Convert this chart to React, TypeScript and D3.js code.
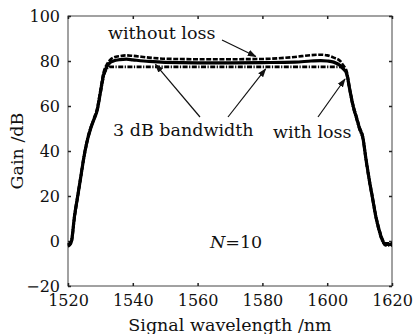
import React, { useRef, useEffect } from "react";
import * as d3 from "d3";

// wavelength samples (nm)
const wavelengths = [
  1520, 1521, 1522, 1523, 1524, 1525, 1526, 1527, 1528, 1529, 1530, 1531, 1532,
  1533, 1534, 1536, 1538, 1540, 1545, 1550, 1560, 1570, 1580, 1590, 1595, 1598,
  1600, 1602, 1604, 1605, 1606, 1607, 1608, 1609, 1610, 1611, 1612, 1613, 1614,
  1615, 1616, 1617, 1618, 1619, 1620,
];
// gain with loss (solid)
const gainWithLoss = [
  -2, -0.5, 11, 20, 29, 38, 45, 50, 54, 58, 66, 74, 77.5,
  79.3, 80, 80.6, 80.8, 80.5, 79.8, 79.4, 79.2, 79.2, 79.3, 79.5, 80, 80.2,
  80, 79.5, 78, 76.5, 74.5, 67, 60, 55, 50, 46, 36, 27, 19,
  11, 5, 0.5, -1.5, -1.5, -1.5,
];
// gain without loss (dashed)
const gainWithoutLoss = [
  -2.5, -1, 10, 19.5, 28.5, 37.5, 44.5, 50, 54.5, 59, 67, 75, 78.5,
  80.5, 81.5, 82.2, 82.5, 82.3, 81.5, 81, 80.8, 80.8, 80.9, 81.8, 82.6, 82.8,
  82.5, 81.5, 80, 78, 75.5, 67.5, 60.5, 55.5, 50.5, 46.5, 36.5, 27.5, 19.5,
  11.5, 5.5, 1, -1, -1, -1,
];
// 3 dB bandwidth level (dash-dot)
const gain3dB = [
  -1.5, 0, 11.5, 20.5, 29.5, 38.5, 45.5, 50.5, 54, 58, 65.5, 73, 76.5,
  77.4, 77.4, 77.4, 77.4, 77.4, 77.4, 77.4, 77.4, 77.4, 77.4, 77.4, 77.4, 77.4,
  77.4, 77.4, 77.4, 76.5, 74, 66.5, 59.5, 54.5, 49.5, 45.5, 35.5, 26.5, 18.5,
  10.5, 4.5, 0, -2, -2, -2,
];

const xTicks = [1520, 1540, 1560, 1580, 1600, 1620];
const yTicks = [-20, 0, 20, 40, 60, 80, 100];

const W = 413;
const H = 334;
const margin = { left: 68, right: 21, top: 16, bottom: 48 };
const font = "'DejaVu Serif', serif";

export default function App() {
  const svgRef = useRef<SVGSVGElement>(null);

  useEffect(() => {
    const svg = d3.select(svgRef.current);
    svg.selectAll("*").remove();

    const x = d3
      .scaleLinear()
      .domain([1520, 1620])
      .range([margin.left, W - margin.right]);
    const y = d3
      .scaleLinear()
      .domain([-20, 100])
      .range([H - margin.bottom, margin.top]);

    const defs = svg.append("defs");
    defs
      .append("marker")
      .attr("id", "arrow")
      .attr("viewBox", "0 0 10 10")
      .attr("refX", 9)
      .attr("refY", 5)
      .attr("markerWidth", 9)
      .attr("markerHeight", 9)
      .attr("markerUnits", "userSpaceOnUse")
      .attr("orient", "auto")
      .append("path")
      .attr("d", "M0,1.5 L10,5 L0,8.5 Z")
      .attr("fill", "#111");

    // frame
    svg
      .append("rect")
      .attr("x", x(1520))
      .attr("y", y(100))
      .attr("width", x(1620) - x(1520))
      .attr("height", y(-20) - y(100))
      .attr("fill", "none")
      .attr("stroke", "#444")
      .attr("stroke-width", 1);

    // bottom / top axes
    const bottom = svg
      .append("g")
      .attr("transform", `translate(0,${y(-20)})`)
      .call(
        d3
          .axisBottom(x)
          .tickValues(xTicks)
          .tickSize(-3)
          .tickPadding(9)
          .tickFormat(d3.format("d"))
      );
    svg
      .append("g")
      .attr("transform", `translate(0,${y(100)})`)
      .call(d3.axisTop(x).tickValues(xTicks).tickSize(-3).tickFormat(() => ""));
    const left = svg
      .append("g")
      .attr("transform", `translate(${x(1520)},0)`)
      .call(
        d3
          .axisLeft(y)
          .tickValues(yTicks)
          .tickSize(-3)
          .tickPadding(8)
          .tickFormat((d) => (+d < 0 ? "\u2212" + Math.abs(+d) : String(d)))
      );
    svg
      .append("g")
      .attr("transform", `translate(${x(1620)},0)`)
      .call(d3.axisRight(y).tickValues(yTicks).tickSize(-3).tickFormat(() => ""));

    svg.selectAll(".domain").remove();
    svg.selectAll(".tick line").attr("stroke", "#222").attr("stroke-width", 1.5);
    svg
      .selectAll(".tick text")
      .attr("font-family", font)
      .attr("font-size", 16)
      .attr("fill", "#111");
    bottom.selectAll(".tick text").attr("dy", "0.71em");
    left.selectAll(".tick text").attr("dy", "0.35em");

    const line = (vals: number[]) =>
      d3
        .line<number>()
        .x((_, i) => x(wavelengths[i]))
        .y((v) => y(v))
        .curve(d3.curveMonotoneX)(vals);

    svg
      .append("path")
      .attr("d", line(gain3dB))
      .attr("fill", "none")
      .attr("stroke", "#000")
      .attr("stroke-width", 2.6)
      .attr("stroke-dasharray", "5,1.5,1.2,1.5");
    svg
      .append("path")
      .attr("d", line(gainWithLoss))
      .attr("fill", "none")
      .attr("stroke", "#000")
      .attr("stroke-width", 3.2);
    svg
      .append("path")
      .attr("d", line(gainWithoutLoss))
      .attr("fill", "none")
      .attr("stroke", "#000")
      .attr("stroke-width", 2.6)
      .attr("stroke-dasharray", "5,1.6");

    // annotations
    const text = (tx: number, ty: number, s: string) =>
      svg
        .append("text")
        .attr("x", tx)
        .attr("y", ty)
        .attr("font-family", font)
        .attr("font-size", 17.5)
        .attr("fill", "#111")
        .text(s);

    text(108, 39, "without loss");
    text(113, 136, "3 dB bandwidth");
    text(273, 138, "with loss");

    const arrow = (x1: number, y1: number, x2: number, y2: number) =>
      svg
        .append("line")
        .attr("x1", x1)
        .attr("y1", y1)
        .attr("x2", x2)
        .attr("y2", y2)
        .attr("stroke", "#111")
        .attr("stroke-width", 1.2)
        .attr("marker-end", "url(#arrow)");

    arrow(222, 40, x(1578), y(82));
    arrow(200, 117, x(1547), y(78.5));
    arrow(228, 117, x(1581), y(76.5));
    arrow(318, 117, x(1605.5), y(72));

    const n = svg
      .append("text")
      .attr("x", 210)
      .attr("y", 248)
      .attr("font-family", font)
      .attr("font-size", 17.5)
      .attr("fill", "#111");
    n.append("tspan").attr("font-style", "italic").text("N");
    n.append("tspan").text("=10");

    svg
      .append("text")
      .attr("x", (x(1520) + x(1620)) / 2)
      .attr("y", 331)
      .attr("text-anchor", "middle")
      .attr("font-family", font)
      .attr("font-size", 17.5)
      .attr("fill", "#111")
      .text("Signal wavelength /nm");

    svg
      .append("text")
      .attr("transform", `translate(23,${y(40)}) rotate(-90)`)
      .attr("text-anchor", "middle")
      .attr("font-family", font)
      .attr("font-size", 17.5)
      .attr("fill", "#111")
      .text("Gain /dB");
  }, []);

  return (
    <svg
      ref={svgRef}
      width={W}
      height={H}
      style={{ position: "absolute", left: 0, top: 0, background: "#fff" }}
    />
  );
}
